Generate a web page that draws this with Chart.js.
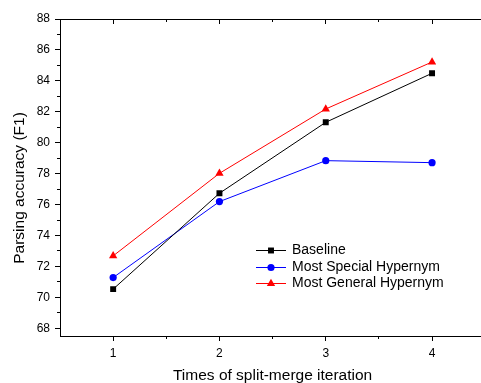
<!DOCTYPE html>
<html>
<head>
<meta charset="utf-8">
<script src="https://cdn.jsdelivr.net/npm/chart.js@4.4.1/dist/chart.umd.min.js"></script>
<style>
  html, body { margin: 0; padding: 0; background: #fff; overflow: hidden; }
  #wrap { width: 490px; height: 392px; }
</style>
</head>
<body>
<div id="wrap"><canvas id="chart" width="490" height="392"></canvas></div>
<script>
// Iteraciones (eje x) y valores de cada serie
const iterations = [1, 2, 3, 4];
const baseline = [70.53, 76.73, 81.32, 84.49];
const mostSpecial = [71.28, 76.19, 78.84, 78.71];
const mostGeneral = [72.68, 78.02, 82.18, 85.22];
const seriesNames = ['Baseline', 'Most Special Hypernym', 'Most General Hypernym'];

// Marcas de los ejes
const xMajorTicks = [1, 2, 3, 4];
const xMinorTicks = [1.5, 2.5, 3.5];
const yMajorTicks = [68, 70, 72, 74, 76, 78, 80, 82, 84, 86, 88];
const yMinorTicks = [69, 71, 73, 75, 77, 79, 81, 83, 85, 87];

const FONT = '"Liberation Sans", Arial, sans-serif';

function toPoints(values) {
    return iterations.map((x, i) => ({ x: x, y: values[i] }));
}

function align(p) {
    return Math.round(p - 0.5) + 0.5;
}

// Marco superior, marcas menores, titulo del eje y y leyenda
const decorations = {
    id: 'decorations',
    afterDraw(chart) {
        const { ctx, chartArea: a, scales } = chart;
        const x = scales.x, y = scales.y;
        ctx.save();
        ctx.strokeStyle = '#000';
        ctx.lineWidth = 1;
        ctx.beginPath();
        const top = align(a.top);
        ctx.moveTo(a.left, top);
        ctx.lineTo(a.right + 2, top);
        xMajorTicks.forEach(v => {
            const px = align(x.getPixelForValue(v));
            ctx.moveTo(px, a.top);
            ctx.lineTo(px, a.top + 5);
        });
        xMinorTicks.forEach(v => {
            const px = align(x.getPixelForValue(v));
            ctx.moveTo(px, a.top);
            ctx.lineTo(px, a.top + 3);
            ctx.moveTo(px, a.bottom);
            ctx.lineTo(px, a.bottom + 3);
        });
        yMinorTicks.forEach(v => {
            const py = align(y.getPixelForValue(v));
            ctx.moveTo(a.left - 3, py);
            ctx.lineTo(a.left, py);
        });
        ctx.stroke();

        // titulo del eje y
        ctx.fillStyle = '#000';
        ctx.font = '15.5px ' + FONT;
        ctx.textAlign = 'center';
        ctx.textBaseline = 'middle';
        ctx.translate(19.5, 188);
        ctx.rotate(-Math.PI / 2);
        ctx.fillText('Parsing accuracy (F1)', 0, 0);
        ctx.restore();

        // leyenda
        ctx.save();
        ctx.font = '14px ' + FONT;
        ctx.textAlign = 'left';
        ctx.textBaseline = 'middle';
        const rows = [250, 266.7, 283.3];
        chart.data.datasets.forEach((ds, i) => {
            const ry = rows[i];
            ctx.strokeStyle = ds.borderColor;
            ctx.lineWidth = 1;
            ctx.beginPath();
            ctx.moveTo(256, Math.round(ry) + 0.5);
            ctx.lineTo(286, Math.round(ry) + 0.5);
            ctx.stroke();
            ctx.fillStyle = ds.backgroundColor;
            Chart.helpers.drawPoint(ctx, {
                pointStyle: ds.pointStyle,
                radius: ds.pointRadius,
                rotation: 0,
                borderWidth: 0
            }, 271, Math.round(ry) + 0.5);
            ctx.fillStyle = '#000';
            ctx.fillText(ds.label, 292, ry);
        });
        ctx.restore();
    }
};

new Chart(document.getElementById('chart'), {
    type: 'line',
    data: {
        datasets: [
            {
                label: seriesNames[0],
                data: toPoints(baseline),
                borderColor: '#000000',
                backgroundColor: '#000000',
                pointStyle: 'rect',
                pointRadius: 4.2
            },
            {
                label: seriesNames[1],
                data: toPoints(mostSpecial),
                borderColor: '#0000ff',
                backgroundColor: '#0000ff',
                pointStyle: 'circle',
                pointRadius: 3.6
            },
            {
                label: seriesNames[2],
                data: toPoints(mostGeneral),
                borderColor: '#ff0000',
                backgroundColor: '#ff0000',
                pointStyle: 'triangle',
                pointRadius: 4.8
            }
        ]
    },
    options: {
        responsive: false,
        animation: false,
        events: [],
        layout: { padding: { left: 0, top: 19, right: 1, bottom: 0 } },
        elements: {
            line: { borderWidth: 1, tension: 0 },
            point: { borderWidth: 0, hoverRadius: 0 }
        },
        plugins: {
            legend: { display: false },
            tooltip: { enabled: false }
        },
        scales: {
            x: {
                type: 'linear',
                min: 0.5,
                max: 4.5,
                afterBuildTicks: s => { s.ticks = xMajorTicks.map(v => ({ value: v })); },
                afterFit: s => { s.height = 56; },
                border: { display: true, color: '#000', width: 1 },
                grid: { drawOnChartArea: false, drawTicks: true, tickLength: 5, tickColor: '#000', tickWidth: 1 },
                ticks: {
                    color: '#000',
                    padding: 5,
                    maxRotation: 0,
                    font: { family: FONT, size: 12 },
                    callback: v => String(v)
                },
                title: {
                    display: true,
                    text: 'Times of split-merge iteration',
                    color: '#000',
                    font: { family: FONT, size: 15.5 },
                    padding: { top: 0, bottom: 7 }
                }
            },
            y: {
                min: 67.5,
                max: 88,
                afterBuildTicks: s => { s.ticks = yMajorTicks.map(v => ({ value: v })); },
                afterFit: s => { s.width = 60; },
                border: { display: true, color: '#000', width: 1 },
                grid: { drawOnChartArea: false, drawTicks: true, tickLength: 5, tickColor: '#000', tickWidth: 1 },
                ticks: {
                    color: '#000',
                    padding: 5,
                    font: { family: FONT, size: 12 },
                    callback: v => String(v)
                }
            }
        }
    },
    plugins: [decorations]
});
</script>
</body>
</html>
